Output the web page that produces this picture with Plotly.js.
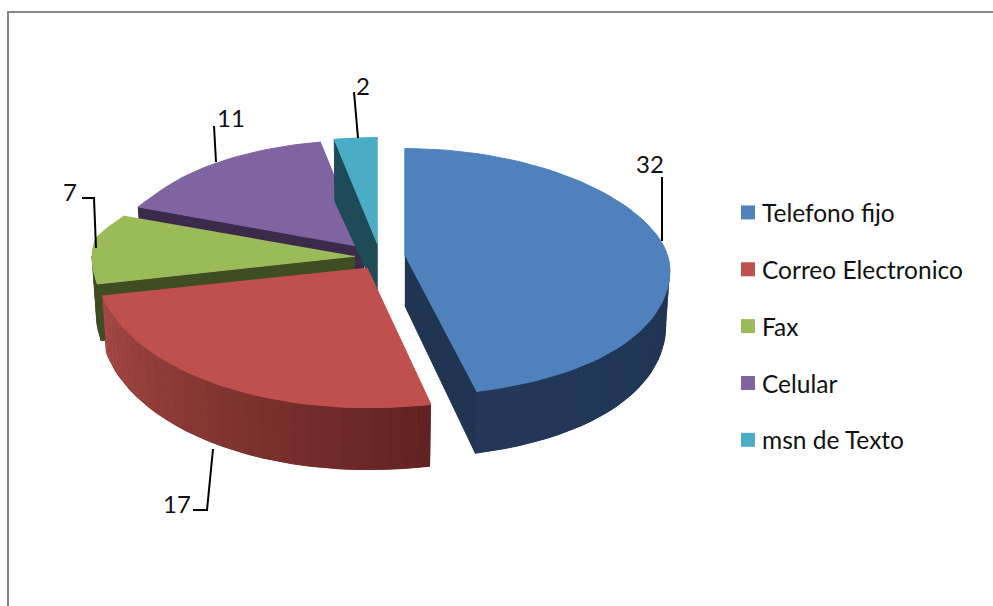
<!DOCTYPE html>
<html>
<head>
<meta charset="utf-8">
<script src="https://cdn.plot.ly/plotly-3.0.1.min.js"></script>
<style>html,body{margin:0;padding:0;background:#fff;overflow:hidden}</style>
</head>
<body>
<div id="chart" style="width:993px;height:606px"></div>
<script>
// Data
const categories = ['Telefono fijo', 'Correo Electronico', 'Fax', 'Celular', 'msn de Texto'];
const values = [32, 17, 7, 11, 2];

// Styles
const topColors = ['#4f81bd', '#c0504d', '#9bbb59', '#8064a2', '#4bacc6'];
const cutColors = ['#1f3552', '#7a302e', '#3f4d22', '#3b2a4a', '#1f4a58'];
const wallFrom = ['#24395a', '#a84a46', '#3f4d22', '#3b2a4a', '#1f4a58'];
const wallTo = ['#1f3552', '#5f2220', '#3f4d22', '#3b2a4a', '#1f4a58'];
const drawOrder = [3, 4, 2, 1, 0];
const FONT = 'Lato, "Open Sans", sans-serif';

// Projection of the tilted pie onto the page scale
const CX = 380, CY = 257, EXPLODE = 25, EXPLODE_Y = 0.5;
const rad = d => d * Math.PI / 180;
const total = values.reduce((a, b) => a + b, 0);
let cum = 0;
const slices = values.map(v => {
  const a0 = cum / total * 360; cum += v;
  const a1 = cum / total * 360; const m = rad((a0 + a1) / 2);
  return {a0, a1, ax: CX + EXPLODE * Math.sin(m), ay: CY - EXPLODE * EXPLODE_Y * Math.cos(m)};
});
function warp(s, t) {
  if (t <= 90 || t >= 270) return t;
  const amp = (t < 180 && s.a0 > 90) ? 1.5 : 6;
  return t - amp * Math.sin(rad(2 * (t - 90)));
}
function radiusX(s, t) {
  if (s.a0 < 90) return 265;
  if (s.a0 < 200) return 270;
  if (s.a0 >= 290) return t <= 300 ? 244 - (t - s.a0) * 0.5 : 240;
  if (t <= 280) return 263;
  return 263 - (t - 280) * 23 / 20;
}
function rimTop(s, t) {
  const w = rad(warp(s, t)), c = Math.cos(w), sn = Math.sin(w);
  const y = c > 0 ? -107 * c : -140 * c;
  return [s.ax + radiusX(s, t) * sn, s.ay + y + (t < 180 ? 14 * sn * sn : 0)];
}
function rimBottom(s, t) {
  const p = rimTop(s, t), d = 55 + 7 * Math.abs(Math.cos(rad(t)));
  return [s.ax + 0.985 * (p[0] - s.ax), p[1] + d];
}
function hex(c) { return [1, 3, 5].map(i => parseInt(c.substr(i, 2), 16)); }
function mix(a, b, f) {
  const x = hex(a), y = hex(b);
  return 'rgb(' + x.map((v, i) => Math.round(v + (y[i] - v) * f)).join(',') + ')';
}
function poly(pts, color, width) {
  return {
    x: pts.map(p => p[0]), y: pts.map(p => p[1]), mode: 'lines', fill: 'toself', fillcolor: color,
    line: {color: color, width: width === undefined ? 1 : width}, showlegend: false, hoverinfo: 'skip'
  };
}

const traces = [];
drawOrder.forEach(i => {
  const s = slices[i];
  const apex = [s.ax, s.ay], apexB = [s.ax, s.ay + 50];
  // cut faces turned towards the viewer
  if (i === 0) {
    traces.push(poly([apex, rimTop(s, s.a1), rimBottom(s, s.a1), apexB], cutColors[i]));
  } else if (i >= 2) {
    traces.push(poly([apex, rimTop(s, s.a0), rimBottom(s, s.a0), apexB], cutColors[i]));
  }
  // outer wall: a base shape with shaded strips over it (front half only)
  const from = Math.max(s.a0, 90), to = Math.min(s.a1, 270);
  if (to > from) {
    const n = Math.max(1, Math.round((to - from) / 3));
    const up = [], down = [];
    for (let k = 0; k <= n; k++) {
      const t = from + (to - from) * k / n;
      up.push(rimTop(s, t)); down.unshift(rimBottom(s, t));
    }
    traces.push(poly(up.concat(down), mix(wallFrom[i], wallTo[i], 0.5)));
    for (let k = 0; k < n; k++) {
      const f = (n - k - 0.5) / n;
      traces.push(poly([up[k], up[k + 1], down[n - k - 1], down[n - k]], mix(wallFrom[i], wallTo[i], f), 0));
    }
  }
  // top face
  const pts = [apex];
  for (let t = s.a0; t < s.a1; t += 2) pts.push(rimTop(s, t));
  pts.push(rimTop(s, s.a1));
  traces.push(poly(pts, topColors[i]));
});
// legend entries
categories.forEach((c, i) => {
  traces.push({
    x: [null], y: [null], name: c, mode: 'markers', legendgroup: c,
    marker: {symbol: 'square', size: 14, color: topColors[i]}, showlegend: true
  });
});

// Leader lines and value labels (page layout, pixels of the hidden axes)
const leaders = [
  'M662,241 L662,177', 'M213,449 L207,510 L193,510', 'M96,248 L94,198 L82,198',
  'M216,162 L214,126', 'M358,138 L354,92'
];
const labelPos = [[650, 163], [177, 503], [70, 191], [231, 117], [363, 85]];

const shapes = leaders.map(p => ({type: 'path', path: p, line: {color: '#000', width: 2}}));
shapes.push({type: 'path', path: 'M8,606 L8,12 L993,12', line: {color: '#868686', width: 2}});

const annotations = values.map((v, i) => ({
  x: labelPos[i][0], y: labelPos[i][1], xref: 'x', yref: 'y', text: String(v), showarrow: false,
  font: {family: FONT, size: 24, color: '#111'}, xanchor: 'center', yanchor: 'middle'
}));

Plotly.newPlot('chart', traces, {
  width: 993, height: 606, margin: {l: 0, r: 0, t: 0, b: 0},
  paper_bgcolor: '#fff', plot_bgcolor: '#fff',
  xaxis: {range: [0, 993], visible: false},
  yaxis: {range: [606, 0], visible: false},
  showlegend: true,
  legend: {
    x: 728 / 993, xanchor: 'left', y: 1 - 190 / 606, yanchor: 'top', traceorder: 'grouped',
    tracegroupgap: 22, indentation: -6, bgcolor: 'rgba(0,0,0,0)',
    font: {family: FONT, size: 24.5, color: '#111'}
  },
  shapes, annotations
}, {displayModeBar: false}).then(gd => {
  // the reference keeps its swatches closer to the text than the legend's fixed item width
  gd.querySelectorAll('.legend .legendpoints').forEach(g => {
    g.setAttribute('transform', 'translate(6,0) ' + (g.getAttribute('transform') || ''));
  });
});
</script>
</body>
</html>
